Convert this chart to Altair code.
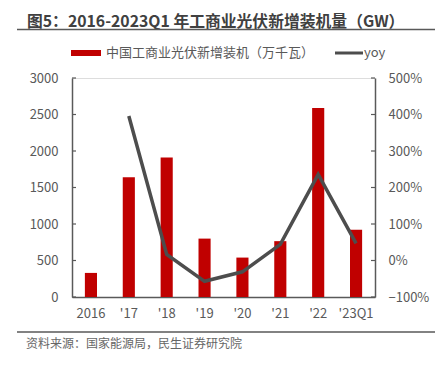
import altair as alt
import pandas as pd

categories = ["2016", "'17", "'18", "'19", "'20", "'21", "'22", "'23Q1"]
installed = [330, 1640, 1910, 800, 540, 765, 2590, 920]
yoy = [None, 3.96, 0.165, -0.57, -0.31, 0.44, 2.36, 0.47]
left_ticks = [0, 500, 1000, 1500, 2000, 2500, 3000]
right_ticks = [-1, 0, 1, 2, 3, 4, 5]

title_text = "图5：2016-2023Q1 年工商业光伏新增装机量（GW）"
bar_label = "中国工商业光伏新增装机（万千瓦）"
line_label = "yoy"
source_text = "资料来源：国家能源局，民生证券研究院"

FONT = "Noto Sans CJK SC"
RED = "#C00000"
GREY = "#4D4D4D"
AXIS = "#595959"

df = pd.DataFrame({"cat": categories, "inst": installed, "yoy": yoy})
lt = pd.DataFrame({"v": left_ticks})
rt = pd.DataFrame({"v": right_ticks})

W, H = 303, 219

xenc = alt.X("cat:N", sort=categories,
             scale=alt.Scale(paddingInner=0.68, paddingOuter=0.34),
             axis=alt.Axis(title=None, labelAngle=0, ticks=False, labelPadding=10,
                           labelFontSize=13, labelColor=AXIS, labelFont=FONT,
                           domainColor=AXIS, domainWidth=1.5))

bars = alt.Chart(df).mark_bar(color=RED).encode(
    x=xenc,
    y=alt.Y("inst:Q", scale=alt.Scale(domain=[0, 3000], nice=False),
            axis=alt.Axis(title=None, values=left_ticks, format="d", ticks=False, grid=False,
                          labelPadding=14, labelFontSize=13, labelColor=AXIS,
                          labelFont=FONT, domainColor=AXIS, domainWidth=1.5)),
)

line = alt.Chart(df).mark_line(color=GREY, strokeWidth=3.5).encode(
    x=alt.X("cat:N", sort=categories),
    y=alt.Y("yoy:Q", scale=alt.Scale(domain=[-1, 5], nice=False),
            axis=alt.Axis(title=None, orient="right", values=right_ticks, format=".0%",
                          ticks=False, grid=False, labelPadding=13, labelFontSize=13,
                          labelColor=AXIS, labelFont=FONT, domainColor=AXIS,
                          domainWidth=1.5)),
)

lticks = alt.Chart(lt).mark_rule(color=AXIS, strokeWidth=1.2).encode(
    y=alt.Y("v:Q", scale=alt.Scale(domain=[0, 3000], nice=False), axis=None),
    x=alt.value(0), x2=alt.value(4),
)
rticks = alt.Chart(rt).mark_rule(color=AXIS, strokeWidth=1.2).encode(
    y=alt.Y("v:Q", scale=alt.Scale(domain=[-1, 5], nice=False), axis=None),
    x=alt.value(W - 4), x2=alt.value(W),
)

title = alt.Chart(pd.DataFrame({"t": [title_text]})).mark_text(
    align="left", baseline="alphabetic", fontSize=15.8, fontWeight="bold",
    font=FONT, color="#404040").encode(
    text="t:N", x=alt.value(-45), y=alt.value(-51.5))
top_rule = alt.Chart(pd.DataFrame({"a": [0]})).mark_rule(color="#595959", strokeWidth=1.5).encode(
    x=alt.value(-55), x2=alt.value(368), y=alt.value(-48.5))

leg_rect = alt.Chart(pd.DataFrame({"a": [0]})).mark_rect(color=RED).encode(
    x=alt.value(-1), x2=alt.value(29), y=alt.value(-28), y2=alt.value(-22))
leg_text1 = alt.Chart(pd.DataFrame({"t": [bar_label]})).mark_text(
    align="left", baseline="middle", fontSize=13, font=FONT, color=AXIS).encode(
    text="t:N", x=alt.value(34), y=alt.value(-25))
leg_line = alt.Chart(pd.DataFrame({"a": [0]})).mark_rule(color=GREY, strokeWidth=3).encode(
    x=alt.value(263), x2=alt.value(291), y=alt.value(-25))
leg_text2 = alt.Chart(pd.DataFrame({"t": [line_label]})).mark_text(
    align="left", baseline="middle", fontSize=13, font=FONT, color=AXIS).encode(
    text="t:N", x=alt.value(292), y=alt.value(-25))

bottom_rule = alt.Chart(pd.DataFrame({"a": [0]})).mark_rule(color="#595959", strokeWidth=1.5).encode(
    x=alt.value(-55), x2=alt.value(368), y=alt.value(254))
source = alt.Chart(pd.DataFrame({"t": [source_text]})).mark_text(
    align="left", baseline="middle", fontSize=12, font=FONT, color="#666666").encode(
    text="t:N", x=alt.value(-46), y=alt.value(266))

chart = alt.layer(
    bars, line, lticks, rticks, title, top_rule, leg_rect, leg_text1, leg_line,
    leg_text2, bottom_rule, source
).resolve_scale(y="independent").properties(
    width=W, height=H,
    autosize=alt.AutoSizeParams(type="none"),
    padding={"left": 64, "top": 70, "right": 60, "bottom": 60},
).configure_view(stroke=None).configure(background="white")

chart.save("out.html", embed_options={"renderer": "svg", "actions": False})
